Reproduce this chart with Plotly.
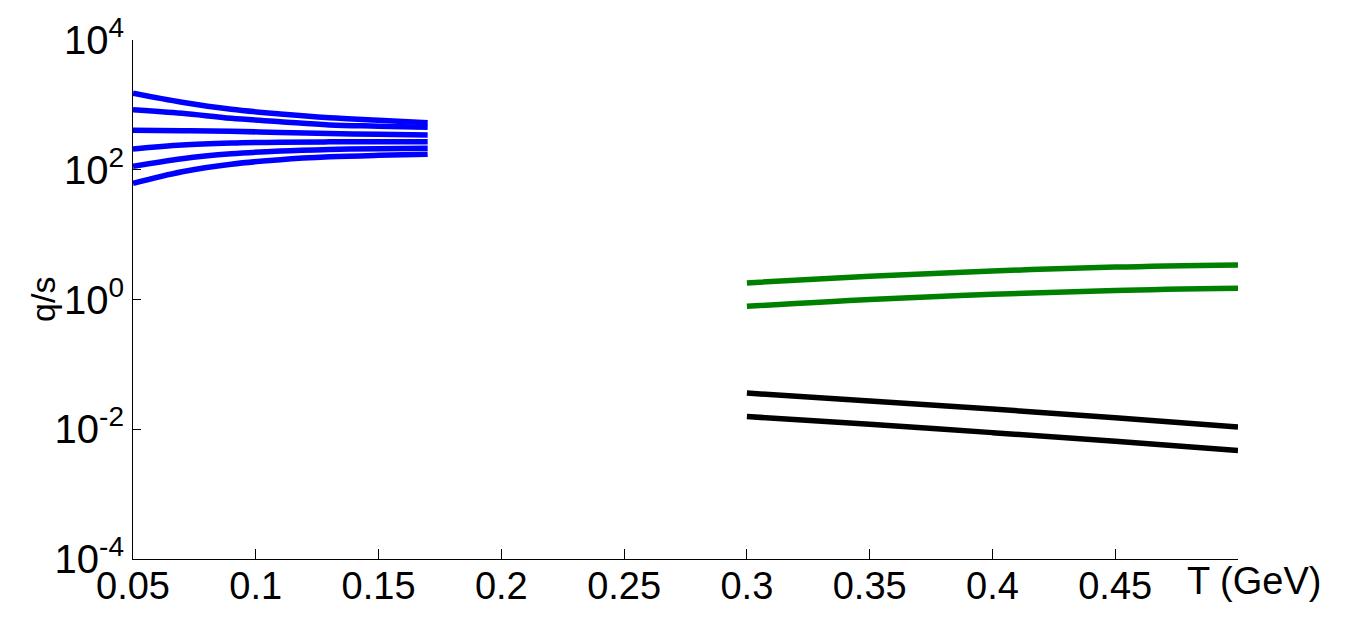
import plotly.graph_objects as go

# temperatures (GeV)
t_low = [0.05, 0.07, 0.09, 0.11, 0.13, 0.15, 0.17]
t_high = [0.30, 0.35, 0.40, 0.45, 0.50]

# low-T curves (blue)
blue_1 = [1507, 1096, 855, 723, 634, 580, 531]
blue_2 = [843, 741, 621, 551, 490, 470, 451]
blue_3 = [405, 400, 392, 375, 362, 352, 344]
blue_4 = [209, 241, 258, 266, 269, 270, 270]
blue_5 = [113, 148, 176, 194, 205, 211, 214]
blue_6 = [61.8, 93.3, 122, 143, 158, 167, 173]

# high-T curves
green_upper = [1.80, 2.29, 2.75, 3.16, 3.41]
green_lower = [0.785, 1.0, 1.20, 1.38, 1.49]
black_upper = [0.0361, 0.0272, 0.0205, 0.0151, 0.0108]
black_lower = [0.0157, 0.0119, 0.00887, 0.00653, 0.00469]

x_ticks = [0.05, 0.1, 0.15, 0.2, 0.25, 0.3, 0.35, 0.4, 0.45]
x_ticktext = ["0.05", "0.1", "0.15", "0.2", "0.25", "0.3", "0.35", "0.4", "0.45"]
y_ticks = [1e-4, 1e-2, 1, 1e2, 1e4]
y_ticktext = ["10<sup>-4</sup>", "10<sup>-2</sup>", "10<sup>0</sup>", "10<sup>2</sup>", "10<sup>4</sup>"]

FONT = "Liberation Sans, Arial, sans-serif"
LW = 5.5

fig = go.Figure()

for ys in [blue_1, blue_2, blue_3, blue_4, blue_5, blue_6]:
    fig.add_trace(go.Scatter(x=t_low, y=ys, mode="lines",
                             line=dict(color="rgb(0,0,255)", width=LW, shape="spline")))

for ys in [green_upper, green_lower]:
    fig.add_trace(go.Scatter(x=t_high, y=ys, mode="lines",
                             line=dict(color="rgb(0,128,0)", width=LW, shape="spline")))

for ys in [black_upper, black_lower]:
    fig.add_trace(go.Scatter(x=t_high, y=ys, mode="lines",
                             line=dict(color="black", width=LW, shape="spline")))

# page body adds an 8px offset, so the figure is a bit smaller than the window
fig.update_layout(
    width=1351, height=612,
    margin=dict(l=125, r=121, t=32, b=61),
    paper_bgcolor="white",
    plot_bgcolor="white",
    showlegend=False,
    font=dict(family=FONT, size=38, color="black"),
)

fig.update_xaxes(
    range=[0.05, 0.5], automargin=False,
    tickvals=x_ticks, ticktext=x_ticktext,
    ticks="inside", ticklen=10, tickwidth=1, tickcolor="black",
    ticklabelstandoff=-7,
    showline=True, linecolor="black", linewidth=1,
    showgrid=False, zeroline=False,
    tickfont=dict(size=38),
)
fig.update_yaxes(
    type="log", range=[-4, 4], automargin=False,
    tickvals=y_ticks, ticktext=y_ticktext,
    ticks="inside", ticklen=8, tickwidth=1, tickcolor="black",
    showline=True, linecolor="black", linewidth=1,
    showgrid=False, zeroline=False,
    tickfont=dict(size=40),
)

fig.add_annotation(text="T (GeV)", xref="x", x=0.5, xshift=16,
                   yref="paper", y=0, yshift=1, yanchor="top", xanchor="center",
                   showarrow=False, font=dict(size=38))
fig.add_annotation(text="q/s", xref="paper", x=-0.082, yref="paper", y=0.5,
                   textangle=-90, showarrow=False, font=dict(size=34),
                   xanchor="center", yanchor="middle")

fig.write_html("out.html")
